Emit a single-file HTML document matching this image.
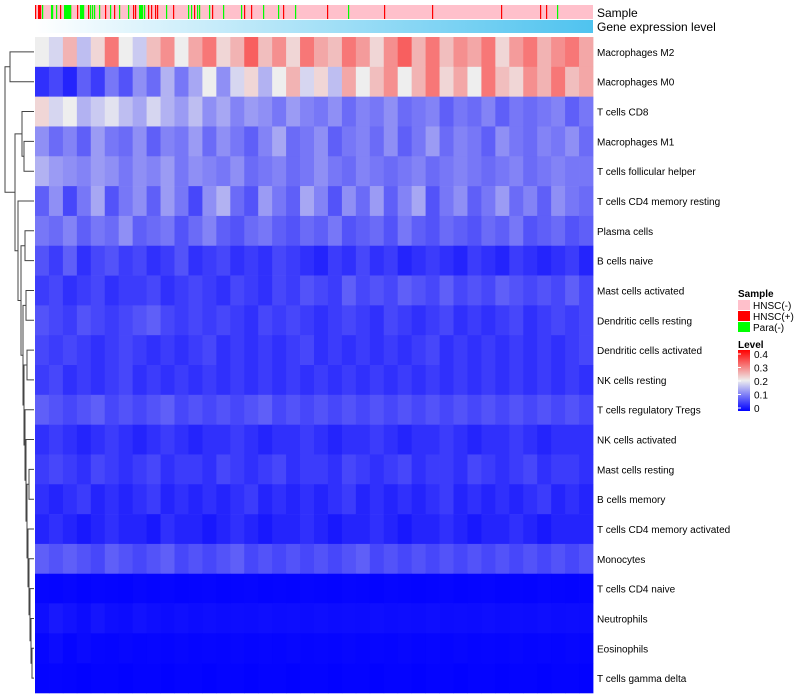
<!DOCTYPE html>
<html><head><meta charset="utf-8"><style>
body{margin:0;background:#fff;}
svg{display:block;font-family:"Liberation Sans",sans-serif;}
</style></head><body>
<svg id="chart" width="800" height="700" viewBox="0 0 800 700" xmlns="http://www.w3.org/2000/svg">
<defs>
<linearGradient id="geneGrad" x1="0" x2="1" y1="0" y2="0"><stop offset="0" stop-color="#ffffff"/><stop offset="1" stop-color="#4fc3ef"/></linearGradient>
<linearGradient id="levelGrad" x1="0" x2="0" y1="1" y2="0"><stop offset="0" stop-color="#0000ff"/><stop offset="0.5" stop-color="#eeeeee"/><stop offset="1" stop-color="#ff0000"/></linearGradient>
</defs>
<g id="dendro"></g>
<g id="cells"></g>
<g id="anno"></g>
<rect x="35" y="20" width="558" height="13" fill="url(#geneGrad)"/>
<text x="597" y="17" font-size="12">Sample</text>
<text x="597" y="31" font-size="12">Gene expression level</text>
<g id="rowlabels"></g>
<g font-size="10">
<text x="738" y="297" font-weight="bold">Sample</text>
<rect x="738" y="300" width="12" height="10" fill="#ffc0cb"/>
<text x="753" y="309">HNSC(-)</text>
<rect x="738" y="311" width="12" height="10" fill="#ff0000"/>
<text x="753" y="320">HNSC(+)</text>
<rect x="738" y="322" width="12" height="10" fill="#00ff00"/>
<text x="753" y="331">Para(-)</text>
<text x="738" y="348" font-weight="bold">Level</text>
<rect x="738" y="350" width="12" height="61" fill="url(#levelGrad)"/>
<g id="lvlticks"></g>
</g>
</svg>
<script>
const rowNames=["Macrophages M2","Macrophages M0","T cells CD8","Macrophages M1","T cells follicular helper","T cells CD4 memory resting","Plasma cells","B cells naive","Mast cells activated","Dendritic cells resting","Dendritic cells activated","NK cells resting","T cells regulatory  Tregs","NK cells activated","Mast cells resting","B cells memory","T cells CD4 memory activated","Monocytes","T cells CD4 naive","Neutrophils","Eosinophils","T cells gamma delta"];
const r0=[0.2,0.18,0.25,0.16,0.22,0.3,0.2,0.17,0.24,0.28,0.2,0.26,0.3,0.22,0.25,0.32,0.24,0.28,0.22,0.3,0.26,0.24,0.3,0.27,0.22,0.28,0.32,0.25,0.3,0.24,0.28,0.26,0.3,0.22,0.27,0.3,0.25,0.28,0.3,0.26];
const r1=[0.04,0.06,0.03,0.08,0.05,0.1,0.07,0.12,0.09,0.15,0.1,0.14,0.2,0.12,0.18,0.22,0.15,0.2,0.25,0.18,0.22,0.16,0.26,0.2,0.24,0.28,0.2,0.25,0.3,0.22,0.26,0.2,0.3,0.24,0.22,0.28,0.25,0.3,0.24,0.26];
const r2=[0.22,0.18,0.2,0.15,0.17,0.19,0.16,0.14,0.18,0.15,0.13,0.16,0.12,0.14,0.11,0.13,0.12,0.1,0.13,0.11,0.1,0.12,0.09,0.11,0.1,0.12,0.09,0.1,0.11,0.08,0.1,0.09,0.11,0.08,0.1,0.09,0.1,0.11,0.08,0.1];
const r3=[0.12,0.09,0.11,0.08,0.13,0.1,0.09,0.12,0.08,0.11,0.1,0.13,0.09,0.12,0.1,0.08,0.11,0.14,0.09,0.1,0.12,0.08,0.1,0.11,0.09,0.12,0.08,0.1,0.13,0.09,0.11,0.1,0.08,0.12,0.1,0.09,0.11,0.1,0.12,0.09];
const r4=[0.15,0.13,0.12,0.11,0.13,0.12,0.1,0.12,0.11,0.13,0.1,0.12,0.11,0.1,0.12,0.09,0.1,0.11,0.09,0.1,0.12,0.1,0.09,0.11,0.1,0.09,0.1,0.11,0.09,0.1,0.11,0.1,0.09,0.1,0.11,0.09,0.1,0.11,0.1,0.1];
const r5=[0.08,0.12,0.06,0.1,0.14,0.07,0.1,0.12,0.08,0.13,0.1,0.06,0.12,0.15,0.09,0.07,0.13,0.1,0.08,0.14,0.11,0.07,0.12,0.09,0.13,0.08,0.11,0.14,0.07,0.1,0.12,0.08,0.1,0.13,0.09,0.11,0.08,0.12,0.1,0.09];
const r6=[0.1,0.09,0.11,0.08,0.1,0.09,0.12,0.08,0.09,0.1,0.07,0.09,0.11,0.08,0.07,0.09,0.1,0.08,0.07,0.09,0.08,0.1,0.07,0.08,0.09,0.07,0.1,0.08,0.07,0.09,0.08,0.07,0.09,0.08,0.1,0.07,0.08,0.09,0.07,0.08];
const r7=[0.07,0.05,0.08,0.04,0.06,0.07,0.05,0.06,0.04,0.05,0.07,0.04,0.05,0.06,0.04,0.05,0.04,0.06,0.05,0.04,0.03,0.05,0.04,0.06,0.04,0.05,0.03,0.04,0.05,0.04,0.03,0.05,0.04,0.03,0.05,0.04,0.03,0.04,0.05,0.03];
const r8=[0.05,0.06,0.04,0.05,0.06,0.04,0.05,0.05,0.06,0.04,0.05,0.06,0.05,0.04,0.06,0.05,0.04,0.06,0.05,0.07,0.06,0.05,0.08,0.06,0.07,0.06,0.08,0.07,0.06,0.08,0.06,0.07,0.06,0.08,0.07,0.06,0.07,0.06,0.08,0.06];
const r9=[0.07,0.06,0.05,0.07,0.06,0.05,0.06,0.07,0.08,0.06,0.05,0.06,0.05,0.06,0.05,0.04,0.06,0.05,0.06,0.05,0.04,0.05,0.06,0.05,0.04,0.06,0.05,0.04,0.05,0.06,0.04,0.05,0.04,0.05,0.06,0.04,0.05,0.06,0.05,0.06];
const r10=[0.06,0.05,0.06,0.05,0.04,0.05,0.06,0.05,0.04,0.05,0.04,0.05,0.06,0.04,0.05,0.04,0.05,0.04,0.05,0.06,0.04,0.05,0.04,0.05,0.04,0.05,0.04,0.05,0.06,0.04,0.05,0.04,0.05,0.04,0.05,0.04,0.05,0.04,0.05,0.06];
const r11=[0.05,0.06,0.04,0.05,0.04,0.05,0.06,0.04,0.05,0.04,0.05,0.04,0.05,0.04,0.05,0.04,0.05,0.04,0.05,0.04,0.05,0.04,0.05,0.04,0.05,0.04,0.05,0.04,0.05,0.04,0.05,0.04,0.05,0.04,0.05,0.04,0.05,0.04,0.05,0.04];
const r12=[0.08,0.07,0.06,0.07,0.08,0.06,0.07,0.06,0.07,0.08,0.06,0.07,0.06,0.07,0.06,0.07,0.08,0.06,0.07,0.06,0.07,0.06,0.07,0.06,0.07,0.06,0.07,0.06,0.07,0.06,0.07,0.06,0.07,0.06,0.07,0.06,0.07,0.06,0.07,0.06];
const r13=[0.04,0.05,0.04,0.03,0.04,0.05,0.04,0.03,0.04,0.05,0.04,0.03,0.04,0.04,0.05,0.04,0.03,0.04,0.04,0.05,0.04,0.03,0.04,0.04,0.05,0.04,0.03,0.04,0.04,0.05,0.04,0.03,0.04,0.04,0.05,0.04,0.03,0.04,0.04,0.04];
const r14=[0.05,0.06,0.05,0.04,0.06,0.05,0.04,0.05,0.06,0.04,0.05,0.05,0.04,0.06,0.05,0.04,0.05,0.06,0.04,0.05,0.05,0.04,0.06,0.05,0.04,0.05,0.06,0.04,0.05,0.05,0.04,0.06,0.05,0.04,0.05,0.06,0.04,0.05,0.05,0.04];
const r15=[0.04,0.03,0.04,0.05,0.03,0.04,0.03,0.04,0.05,0.03,0.04,0.03,0.04,0.03,0.04,0.05,0.03,0.04,0.03,0.04,0.03,0.04,0.05,0.03,0.04,0.03,0.04,0.03,0.04,0.05,0.03,0.04,0.03,0.04,0.03,0.04,0.05,0.03,0.04,0.03];
const r16=[0.03,0.04,0.03,0.02,0.03,0.04,0.03,0.03,0.02,0.04,0.03,0.03,0.02,0.03,0.04,0.03,0.02,0.03,0.03,0.04,0.03,0.02,0.03,0.03,0.04,0.03,0.02,0.03,0.03,0.04,0.03,0.02,0.03,0.03,0.04,0.03,0.02,0.03,0.03,0.03];
const r17=[0.08,0.07,0.08,0.07,0.06,0.08,0.07,0.06,0.07,0.08,0.06,0.07,0.06,0.07,0.08,0.06,0.07,0.06,0.07,0.06,0.07,0.06,0.07,0.08,0.06,0.07,0.06,0.07,0.06,0.07,0.06,0.07,0.06,0.07,0.06,0.07,0.06,0.07,0.06,0.07];
const r18=[0.005,0.004,0.006,0.003,0.005,0.004,0.003,0.006,0.004,0.005,0.003,0.004,0.005,0.003,0.004,0.005,0.003,0.004,0.003,0.005,0.004,0.003,0.005,0.004,0.003,0.005,0.004,0.003,0.004,0.005,0.003,0.004,0.005,0.003,0.004,0.003,0.005,0.004,0.003,0.004];
const r19=[0.012,0.02,0.015,0.01,0.018,0.012,0.01,0.015,0.012,0.01,0.013,0.01,0.012,0.01,0.011,0.01,0.012,0.01,0.011,0.01,0.012,0.01,0.011,0.01,0.012,0.01,0.011,0.01,0.012,0.01,0.011,0.01,0.012,0.01,0.011,0.01,0.012,0.01,0.011,0.01];
const r20=[0.005,0.01,0.004,0.008,0.005,0.004,0.006,0.004,0.005,0.004,0.006,0.004,0.005,0.004,0.006,0.004,0.005,0.004,0.006,0.004,0.005,0.004,0.006,0.004,0.005,0.004,0.006,0.004,0.005,0.004,0.006,0.004,0.005,0.004,0.006,0.004,0.005,0.004,0.006,0.004];
const r21=[0.003,0.004,0.003,0.002,0.003,0.003,0.002,0.003,0.003,0.002,0.003,0.003,0.002,0.003,0.003,0.002,0.003,0.003,0.002,0.003,0.003,0.002,0.003,0.003,0.002,0.003,0.003,0.002,0.003,0.003,0.002,0.003,0.003,0.002,0.003,0.003,0.002,0.003,0.003,0.002];
const rowValues=[r0,r1,r2,r3,r4,r5,r6,r7,r8,r9,r10,r11,r12,r13,r14,r15,r16,r17,r18,r19,r20,r21];
const nSamples=558;
const hnscPosIdx=[0,3,4,5,25,35,42,46,53,70,79,98,100,113,116,120,122,138,159,177,209,216,248,292,349,397,466,505,511];
const paraNegIdx=[7,16,17,21,29,30,31,32,33,34,35,45,46,47,48,55,57,59,64,75,84,93,104,105,106,107,109,131,153,156,162,164,174,188,206,228,243,260,313,522];
const levelTicks=[0,0.1,0.2,0.3,0.4];

const X0=35,X1=593,Y0=37,Y1=693,NS="http://www.w3.org/2000/svg";
const rowH=(Y1-Y0)/rowNames.length;
const yRow=i=>Y0+i*rowH;
function mix(a,b,t){return a.map((v,k)=>Math.round(v+(b[k]-v)*t));}
function color(v){const t=Math.max(0,Math.min(1,v/0.4));
 const c=t<0.5?mix([0,0,255],[238,238,238],t/0.5):mix([238,238,238],[255,0,0],(t-0.5)/0.5);
 return `rgb(${c[0]},${c[1]},${c[2]})`;}
function el(tag,attrs,parent){const e=document.createElementNS(NS,tag);for(const k in attrs)e.setAttribute(k,attrs[k]);parent.appendChild(e);return e;}
const cells=document.getElementById('cells');
rowValues.forEach((vals,i)=>{const cw=(X1-X0)/vals.length;
 vals.forEach((v,j)=>{const r=el('rect',{x:(X0+j*cw).toFixed(2),y:yRow(i).toFixed(2),width:(cw+0.4).toFixed(2),height:(rowH+0.3).toFixed(2),fill:color(v)},cells);
  
  });});
const anno=document.getElementById('anno');
const bg=el('rect',{x:X0,y:5,width:X1-X0,height:14,fill:'#ffc0cb'},anno);


const sw=(X1-X0)/nSamples;
hnscPosIdx.forEach(i=>{const r=el('rect',{x:X0+i*sw,y:5,width:Math.max(sw,1.2),height:14,fill:'#ff0000'},anno);
 
 });
paraNegIdx.forEach(i=>{const r=el('rect',{x:X0+i*sw,y:5,width:Math.max(sw,1.2),height:14,fill:'#00ff00'},anno);
 
 });
const rl=document.getElementById('rowlabels');
rowNames.forEach((n,i)=>{const t=el('text',{x:597,y:(yRow(i)+rowH/2+4).toFixed(1),'font-size':10,'xml:space':'preserve'},rl);t.textContent=n;
 
 });
const lt=document.getElementById('lvlticks');
levelTicks.forEach(v=>{const y=408-(v/0.4)*54;
 const ln=el('line',{x1:738,x2:741,y1:y,y2:y,stroke:'#fff','stroke-width':1},lt);
 
 
 const t=el('text',{x:754,y:y+4,'font-size':10},lt);t.textContent=String(v);
 
 });
// dendrogram: [left, right, x-position]
const tree=[5,[10,0,1],[15,[22,2,[24,3,4]],[18,5,[21,[25,6,7],[23,[26,8,9],[24,[27,10,11],[25,12,[26,13,[27,[29,14,15],[28,16,[29,17,[30,18,[31,19,[32,20,21]]]]]]]]]]]]]];
const dg=document.getElementById('dendro');let d='';
function walk(n){if(typeof n==='number')return {x:34,y:yRow(n)+rowH/2};
 const a=walk(n[1]),b=walk(n[2]),x=n[0];
 d+=`M${a.x},${a.y.toFixed(1)}H${x}V${b.y.toFixed(1)}H${b.x}`;return {x:x,y:(a.y+b.y)/2};}
walk(tree);
const p=el('path',{d:d,fill:'none',stroke:'#444','stroke-width':1},dg);


</script>
</body></html>
